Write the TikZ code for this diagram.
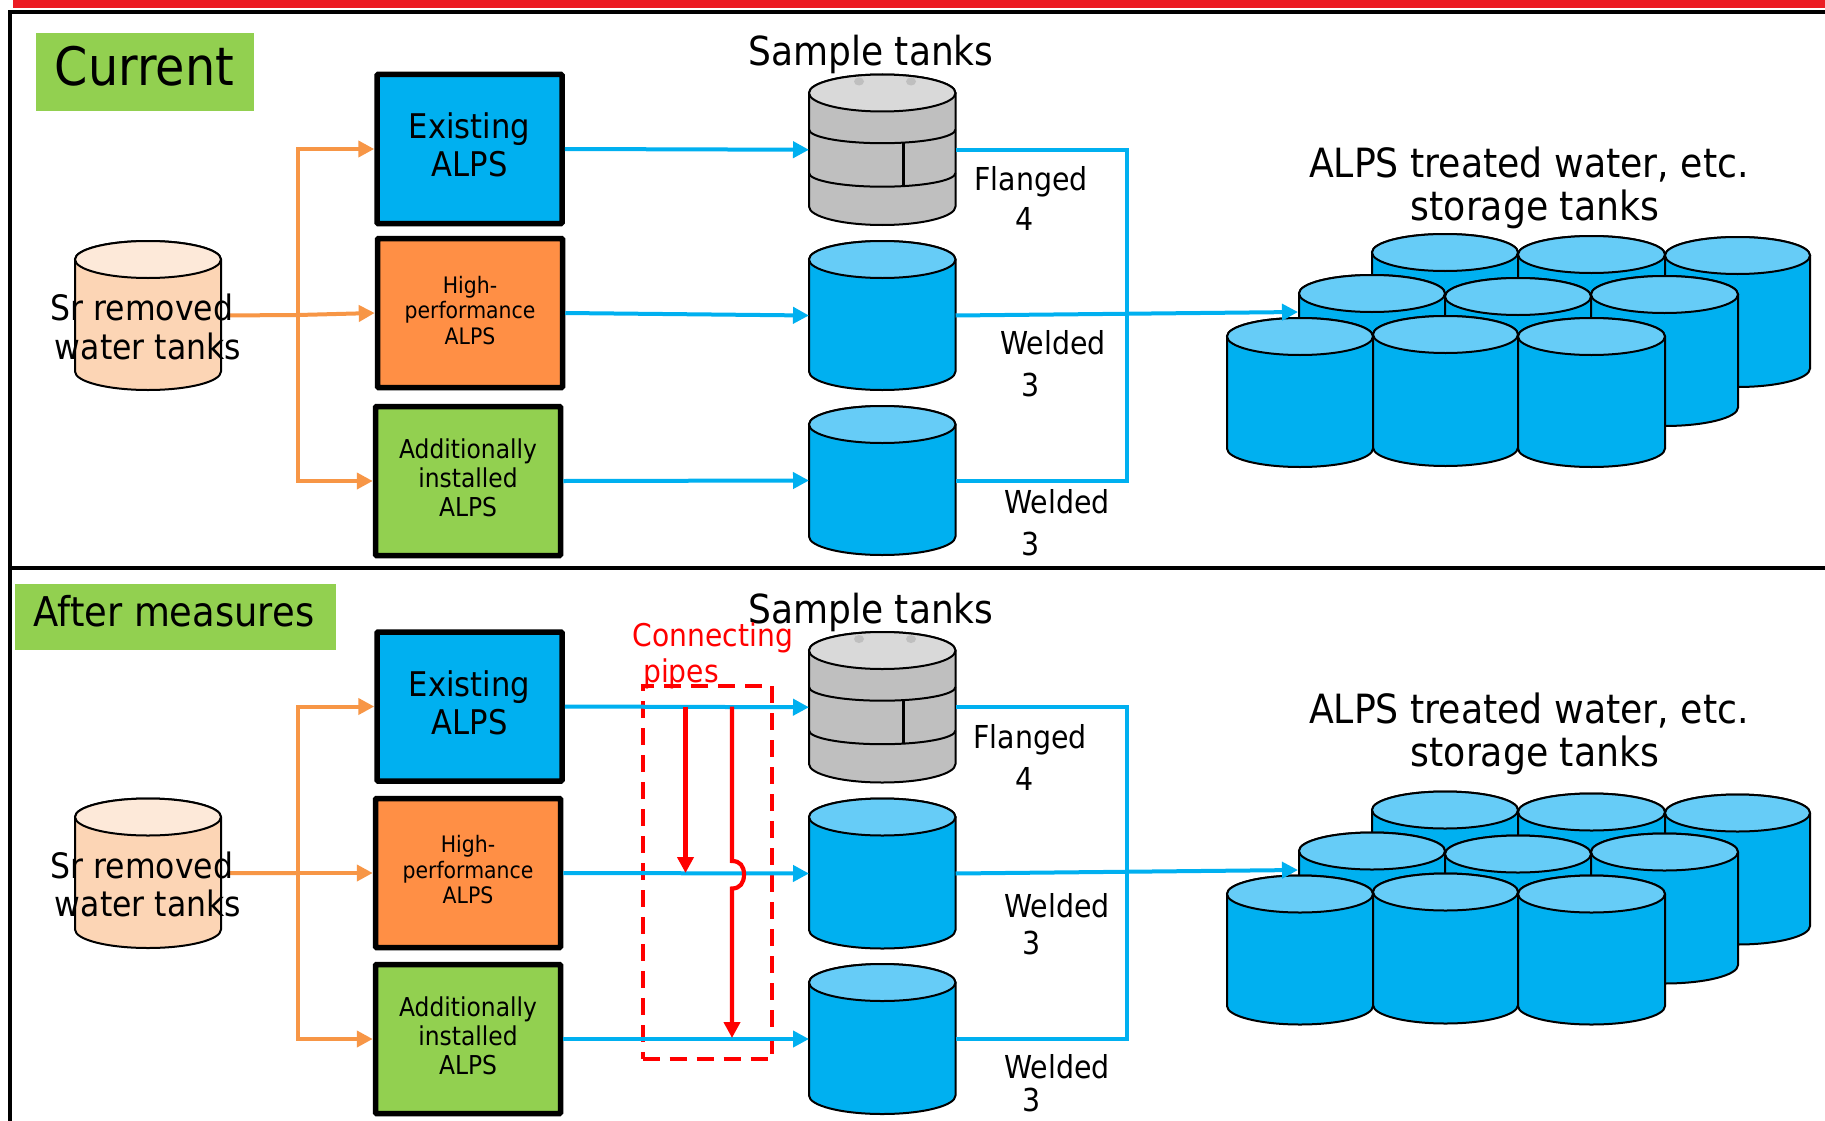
\documentclass[tikz,border=0pt]{standalone}
\usepackage{fontspec}
\setmainfont[FakeStretch=0.9]{DejaVu Sans}
\usetikzlibrary{arrows.meta}
\definecolor{tkblue}{HTML}{00B0F0}
\definecolor{tktop}{HTML}{66CCF7}
\definecolor{lnorange}{HTML}{F79646}
\definecolor{boxorange}{HTML}{FF8F45}
\definecolor{srbody}{HTML}{FCD5B5}
\definecolor{srtop}{HTML}{FDE9D9}
\definecolor{grn}{HTML}{92D050}
\definecolor{barred}{HTML}{EC1C24}
\definecolor{gbody}{HTML}{BFBFBF}
\definecolor{gtop}{HTML}{D9D9D9}
\newcommand\fsz[2]{\fontsize{#1}{#2}\selectfont}
% name, x left, y top, x right, y bottom, body colour, top colour
\newcommand\tank[7]{%
  \pgfmathsetmacro\tkw{#4-(#2)}\pgfmathsetmacro\tkh{#5-(#3)}%
  \pgfmathsetmacro\tkcx{(#2+#4)/2}\pgfmathsetmacro\tkcy{(#3+#5)/2}%
  \pgfmathsetmacro\tkrx{\tkw/2}%
  \pgfmathsetmacro\tkya{#3+18.5}\pgfmathsetmacro\tkyb{#5-18.5}%
  \node[tankbase,minimum width=\tkw pt,minimum height=\tkh pt] (#1) at (\tkcx,\tkcy) {};
  \draw[tankline,fill=#6] (#2,\tkya) -- (#2,\tkyb)
    arc[start angle=180,end angle=360,x radius=\tkrx pt,y radius=18.5pt]
    -- (#4,\tkya) arc[start angle=0,end angle=180,x radius=\tkrx pt,y radius=18.5pt] -- cycle;
  \draw[tankline,fill=#7] (\tkcx,\tkya) ellipse[x radius=\tkrx pt,y radius=18.5pt];
}
% name, y top: the flanged tank
\newcommand\graytank[2]{%
  \tank{#1}{809}{#2}{955.5}{#2+150.5}{gbody}{gtop}
  \fill[gbody] (859,#2+7) ellipse[x radius=5pt,y radius=4pt];
  \fill[gbody] (911,#2+7) ellipse[x radius=5pt,y radius=4pt];
  \draw[tankline] (809,#2+55) arc[start angle=180,end angle=360,x radius=73.25pt,y radius=13.7pt];
  \draw[tankline] (809,#2+98.5) arc[start angle=180,end angle=360,x radius=73.25pt,y radius=13.7pt];
  \draw[tankline,line width=3pt] (903,#2+68.5) -- (903,#2+112);
}
% prefix: the nine storage tanks
\newcommand\storagetanks[1]{%
  \tank{#1a}{1372}{234}{1518}{385}{tkblue}{tktop}
  \tank{#1b}{1518}{236}{1665}{386}{tkblue}{tktop}
  \tank{#1c}{1665}{237}{1810}{387}{tkblue}{tktop}
  \tank{#1d}{1299}{275}{1445}{425}{tkblue}{tktop}
  \tank{#1e}{1445}{278}{1591}{426}{tkblue}{tktop}
  \tank{#1f}{1591}{276}{1738}{426}{tkblue}{tktop}
  \tank{#1g}{1227}{318}{1373}{467}{tkblue}{tktop}
  \tank{#1h}{1373}{316}{1518}{466}{tkblue}{tktop}
  \tank{#1i}{1518}{318}{1665}{467}{tkblue}{tktop}
}
\tikzset{
  x=1pt,y=-1pt,
  tankbase/.style={inner sep=0pt,outer sep=0pt},
  tankline/.style={draw=black,line width=2pt},
  alpsbox/.style={draw=black,line width=5.5pt,rounded corners=1pt,minimum width=185pt,minimum height=149pt,inner sep=0pt,outer sep=2.75pt,align=center},
  label/.style={inner sep=0pt,outer sep=0pt,align=center,text=black},
  tag/.style={fill=grn,inner sep=0pt,outer sep=0pt},
  frameline/.style={draw=black,line width=3.8pt},
  bluelink/.style={draw=tkblue,line width=4pt},
  bluearrow/.style={bluelink,-{Triangle[length=16pt,width=16pt]}},
  orangelink/.style={draw=lnorange,line width=4pt},
  orangearrow/.style={orangelink,-{Triangle[length=16pt,width=16pt]}},
  redarrow/.style={draw=red,line width=4.2pt,-{Triangle[length=16pt,width=16pt]}},
  reddash/.style={draw=red,line width=4pt,dash pattern=on 17pt off 10pt,inner sep=0pt},
}
\begin{document}
\begin{tikzpicture}
\useasboundingbox (0,0) rectangle (1825,1121);
\fill[white] (0,0) rectangle (1825,1121);
\fill[barred] (13,0) rectangle (1825,8);
\draw[frameline] (1825,12) -- (10,12) -- (10,1121);
\draw[frameline] (10,568) -- (1825,568);

%%%%% Current panel
\node[tag,minimum width=218pt,minimum height=78pt] (tagcur) at (145,72) {};
\node[label,font=\fsz{53}{56}] (tagcurt) at (144.5,66) {Current};
\tank{srA}{75}{241}{221}{390}{srbody}{srtop}
\node[alpsbox,fill=tkblue] (exA) at (469.5,149) {};
\node[label,font=\fsz{34}{38}] (exAt) at (469.5,145) {Existing\\ALPS};
\node[alpsbox,fill=boxorange] (hpA) at (470,313) {};
\node[label,font=\fsz{22.7}{25.5}] (hpAt) at (470,310.5) {High-\\performance\\ALPS};
\node[alpsbox,fill=grn] (adA) at (468,481) {};
\node[label,font=\fsz{26}{29}] (adAt) at (468,478) {Additionally\\installed\\ALPS};
\graytank{stA}{74.5}
\tank{smA}{809}{241}{955.5}{390}{tkblue}{tktop}
\tank{wlA}{809}{406}{955.5}{555}{tkblue}{tktop}
\storagetanks{sA}
\coordinate (joA) at (298,315);
\coordinate (coA) at (1127,315);
\coordinate (inA) at (1298,312);
\draw[orangelink,shorten <=8pt] (srA.east) -- (joA);
\draw[orangearrow] (joA) |- (exA.west);
\draw[orangearrow] (joA) -- (hpA.west);
\draw[orangearrow] (joA) |- (adA.west);
\draw[bluearrow] (exA.east) -- (stA.west);
\draw[bluearrow] (hpA.east) -- (smA.west);
\draw[bluearrow] (adA.east) -- (wlA.west);
\draw[bluelink] (stA.east) -| (coA);
\draw[bluelink] (wlA.east) -| (coA);
\draw[bluearrow] (smA.east) -- (inA);
\node[label,font=\fsz{35}{38}] (srtA) at (142,307) {Sr removed};
\node[label,font=\fsz{35}{38}] (srbA) at (148,346) {water tanks};
\node[label,font=\fsz{40}{44}] (smpA) at (871,54.5) {Sample tanks};
\node[label,font=\fsz{40.3}{44}] (stoA) at (1529,165) {ALPS treated water, etc.};
\node[label,font=\fsz{40.3}{44}] (stoAb) at (1535,209) {storage tanks};
\node[label,font=\fsz{31.6}{35}] (flA) at (1031,182) {Flanged};
\node[label,font=\fsz{31.6}{35}] (fnA) at (1025,219) {4};
\node[label,font=\fsz{31.6}{35}] (wmA) at (1053,343) {Welded};
\node[label,font=\fsz{31.6}{35}] (wnA) at (1031,385) {3};
\node[label,font=\fsz{31.6}{35}] (wbA) at (1057,502) {Welded};
\node[label,font=\fsz{31.6}{35}] (wcA) at (1031,544) {3};

%%%%% After measures panel
\node[tag,minimum width=321pt,minimum height=65.5pt] (tagaft) at (175.5,617) {};
\node[label,font=\fsz{41}{44}] (tagaftt) at (174,611.5) {After measures};
\tank{srB}{75}{798.5}{221}{948}{srbody}{srtop}
\node[alpsbox,fill=tkblue] (exB) at (469.5,706.5) {};
\node[label,font=\fsz{34}{38}] (exBt) at (469.5,702.5) {Existing\\ALPS};
\node[alpsbox,fill=boxorange] (hpB) at (468,873) {};
\node[label,font=\fsz{22.7}{25.5}] (hpBt) at (468,870) {High-\\performance\\ALPS};
\node[alpsbox,fill=grn] (adB) at (468,1039) {};
\node[label,font=\fsz{26}{29}] (adBt) at (468,1036) {Additionally\\installed\\ALPS};
\graytank{stB}{632}
\tank{smB}{809}{798.5}{955.5}{948.5}{tkblue}{tktop}
\tank{wlB}{809}{964}{955.5}{1114}{tkblue}{tktop}
\begin{scope}[yshift=-557.5pt]
\storagetanks{sB}
\end{scope}
\node[reddash,minimum width=129.5pt,minimum height=373.5pt] (cpbox) at (707.25,872.25) {};
\coordinate (joB) at (298,873);
\coordinate (coB) at (1127,873);
\coordinate (inB) at (1298,870);
\draw[orangelink,shorten <=8pt] (srB.east) -- (joB);
\draw[orangearrow] (joB) |- (exB.west);
\draw[orangearrow] (joB) -- (hpB.west);
\draw[orangearrow] (joB) |- (adB.west);
\draw[bluearrow] (exB.east) -- (stB.west);
\draw[bluearrow] (hpB.east) -- (smB.west);
\draw[bluearrow] (adB.east) -- (wlB.west);
\draw[bluelink] (stB.east) -| (coB);
\draw[bluelink] (wlB.east) -| (coB);
\draw[bluearrow] (smB.east) -- (inB);
\coordinate (raS) at (685.5,706.5);
\coordinate (raE) at (685.5,873);
\coordinate (rbS) at (732,706.5);
\coordinate (rbT) at (732,861);
\coordinate (rbB) at (732,888.5);
\coordinate (rbE) at (732,1038);
\draw[redarrow] (raS) -- (raE);
\draw[redarrow] (rbS) -- (rbT) .. controls (740,861) and (744,866) .. (744,874.5) .. controls (744,883) and (740,888.5) .. (rbB) -- (rbE);
\node[label,font=\fsz{35}{38}] (srtB) at (142,865) {Sr removed};
\node[label,font=\fsz{35}{38}] (srbB) at (148,903) {water tanks};
\node[label,font=\fsz{40}{44}] (smpB) at (871,612) {Sample tanks};
\node[label,font=\fsz{40.3}{44}] (stoB) at (1529,711) {ALPS treated water, etc.};
\node[label,font=\fsz{40.3}{44}] (stoBb) at (1535,755.5) {storage tanks};
\node[label,font=\fsz{31.3}{35},text=red] (cpa) at (713,637.5) {Connecting};
\node[label,font=\fsz{31.3}{35},text=red] (cpb) at (681,673.5) {pipes};
\node[label,font=\fsz{31.6}{35}] (flB) at (1030,739.5) {Flanged};
\node[label,font=\fsz{31.6}{35}] (fnB) at (1025,779) {4};
\node[label,font=\fsz{31.6}{35}] (wmB) at (1057,905.5) {Welded};
\node[label,font=\fsz{31.6}{35}] (wnB) at (1032,943) {3};
\node[label,font=\fsz{31.6}{35}] (wbB) at (1057,1067) {Welded};
\node[label,font=\fsz{31.6}{35}] (wcB) at (1032,1100) {3};
\end{tikzpicture}
\end{document}
